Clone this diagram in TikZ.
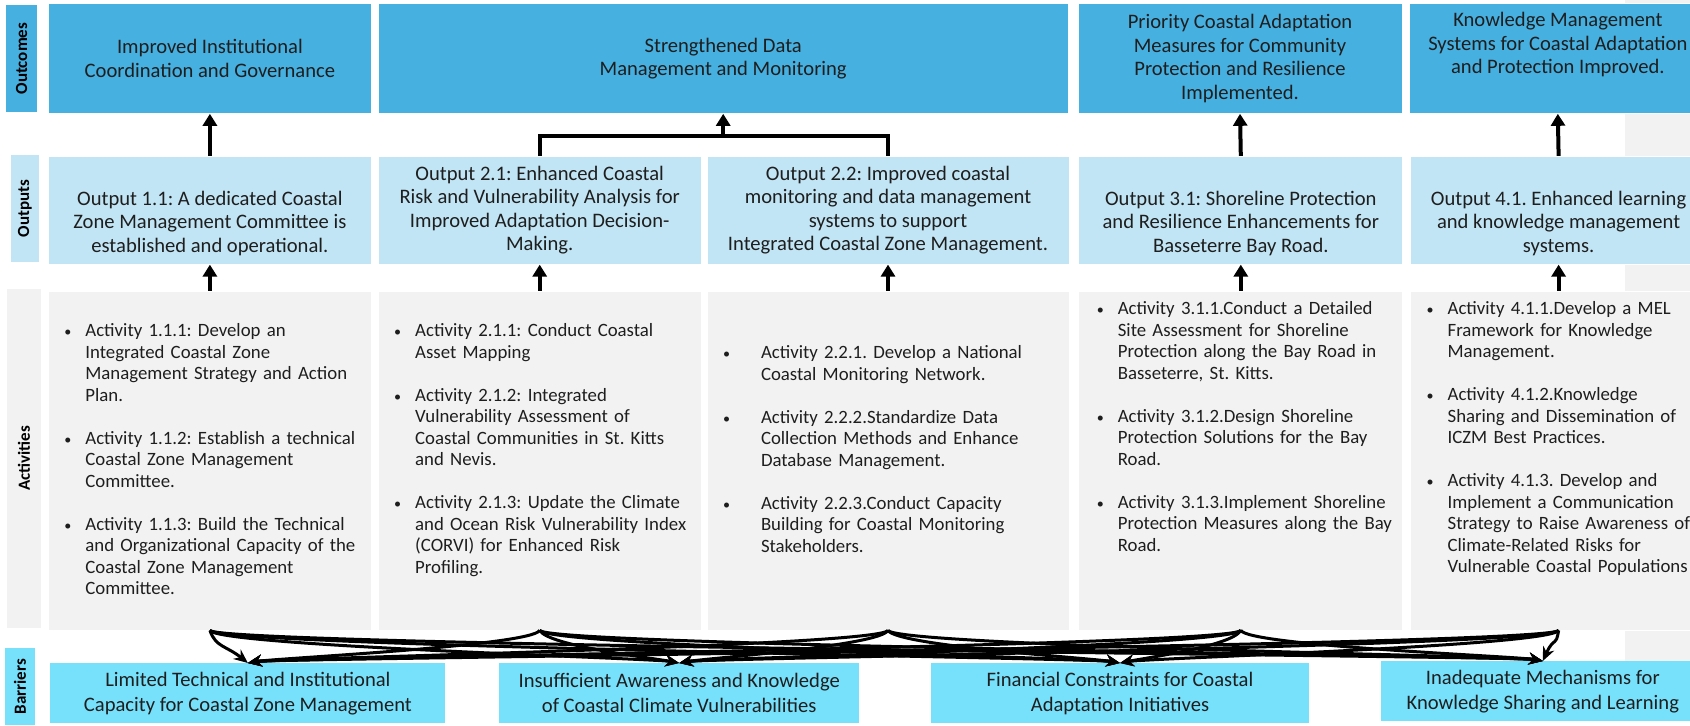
\documentclass[tikz,border=0pt]{standalone}
\usepackage{fontspec}
\setmainfont{Carlito}
\usetikzlibrary{positioning, arrows.meta, calc}
\frenchspacing

\definecolor{outcomeblue}{RGB}{70,176,225}
\definecolor{outputblue}{RGB}{193,229,245}
\definecolor{actgray}{RGB}{242,242,242}
\definecolor{barriercyan}{RGB}{119,225,252}
\definecolor{txt}{RGB}{30,30,30}

\newcommand{\boxfont}{\fontsize{10.3}{11.75}\selectfont}
\newcommand{\actfont}{\fontsize{9.4}{10.75}\selectfont}
\newcommand{\barfont}{\fontsize{10.3}{12.5}\selectfont}
\newcommand{\lblfont}{\fontsize{8.5}{10}\selectfont\bfseries}
\newcommand{\actitem}[2][10.5pt]{\noindent\hangindent=#1\hangafter=1\makebox[#1][l]{\scalebox{0.75}{\textbullet}}#2\par}
\newcommand{\actgap}{\vspace{10.75pt}}

\tikzset{
  outcome/.style={draw=white, fill=outcomeblue, text=txt, font=\boxfont, align=center, minimum height=55pt, inner sep=0pt},
  output/.style={outcome, fill=outputblue, minimum height=54pt},
  actbox/.style={draw=white, fill=actgray, minimum height=169.5pt, inner sep=0pt},
  acttext/.style={anchor=base west, text width=170pt, align=left, font=\actfont, text=txt, inner sep=0pt},
  barrier/.style={fill=barriercyan, text=txt, font=\barfont, align=center, minimum height=30pt, inner sep=0pt},
  rowlabel/.style={rotate=90, font=\lblfont, inner sep=0pt},
  uparrow/.style={-{Triangle[length=6pt,width=7pt]}, line width=2pt},
  bracket/.style={line width=2pt},
  barrow/.style={-{Stealth[length=7pt,width=6pt]}, line width=1.5pt}
}

\begin{document}
\begin{tikzpicture}[x=0.5pt, y=-0.5pt]
    \useasboundingbox (0,0) rectangle (1690,725);
    \fill[white] (0,0) rectangle (1690,725);
    \fill[actgray] (1625,0) rectangle (1690,661);

    % row labels
    \node[rowlabel, fill=outcomeblue, minimum width=53.5pt, minimum height=15.5pt] (lo) at (21.5,58.5) {Outcomes};
    \node[rowlabel, fill=outputblue, minimum width=53.5pt, minimum height=14pt] (lp) at (25,208.5) {Outputs};
    \node[rowlabel, fill=actgray, minimum width=169.5pt, minimum height=17pt] (la) at (24,458.5) {Activities};
    \node[rowlabel, fill=barriercyan, minimum width=38.5pt, minimum height=15pt] (lb) at (20,686.5) {Barriers};

    % outcomes
    \node[outcome, minimum width=161.5pt, anchor=north west] (o1) at (48,3)
        {Improved Institutional\\Coordination and Governance};
    \node[outcome, minimum width=345pt, right=3pt of o1] (o2)
        {Strengthened Data\\Management and Monitoring};
    \node[outcome, minimum width=162pt, right=4.5pt of o2] (o3)
        {Priority Coastal Adaptation\\Measures for Community\\Protection and Resilience\\Implemented.};
    \node[outcome, minimum width=148pt, right=3.5pt of o3] (o4)
        {Knowledge Management\\Systems for Coastal Adaptation\\and Protection Improved.\\\strut};

    % outputs
    \node[output, minimum width=161.5pt, below=21pt of o1] (p1)
        {\strut\\Output 1.1: A dedicated Coastal\\Zone Management Committee is\\established and operational.};
    \node[output, minimum width=161.5pt, right=3pt of p1] (p21)
        {Output 2.1: Enhanced Coastal\\Risk and Vulnerability Analysis for\\Improved Adaptation Decision-\\Making.};
    \node[output, minimum width=181pt, right=2.5pt of p21] (p22)
        {Output 2.2: Improved coastal\\monitoring and data management\\systems to support\\Integrated Coastal Zone Management.};
    \node[output, minimum width=162pt, right=4.5pt of p22] (p3)
        {\strut\\Output 3.1: Shoreline Protection\\and Resilience Enhancements for\\Basseterre Bay Road.};
    \node[output, minimum width=148pt, right=3.5pt of p3] (p4)
        {\strut\\Output 4.1. Enhanced learning\\and knowledge management\\systems.};

    % activities
    \node[actbox, minimum width=161.5pt, below=13pt of p1] (a1) {};
    \node[actbox, minimum width=161.5pt, right=3pt of a1] (a2) {};
    \node[actbox, minimum width=181pt, right=2.5pt of a2] (a3) {};
    \node[actbox, minimum width=162pt, right=4.5pt of a3] (a4) {};
    \node[actbox, minimum width=148pt, right=3.5pt of a4] (a5) {};

    \node[acttext] (t1) at ($(a1.north west)+(16,46)$) {%
        \actitem{Activity 1.1.1: Develop an\newline Integrated Coastal Zone\newline Management Strategy and Action\newline Plan.}\actgap
        \actitem{Activity 1.1.2: Establish a technical\newline Coastal Zone Management\newline Committee.}\actgap
        \actitem{Activity 1.1.3: Build the Technical\newline and Organizational Capacity of the\newline Coastal Zone Management\newline Committee.}};
    \node[acttext] (t2) at ($(a2.north west)+(16,46)$) {%
        \actitem{Activity 2.1.1: Conduct Coastal\newline Asset Mapping}\actgap
        \actitem{Activity 2.1.2: Integrated\newline Vulnerability Assessment of\newline Coastal Communities in St. Kitts\newline and Nevis.}\actgap
        \actitem{Activity 2.1.3: Update the Climate\newline and Ocean Risk Vulnerability Index\newline (CORVI) for Enhanced Risk\newline Profiling.}};
    \node[acttext] (t3) at ($(a3.north west)+(16,68)$) {%
        \actitem[19pt]{Activity 2.2.1. Develop a National\newline Coastal Monitoring Network.}\actgap
        \actitem[19pt]{Activity 2.2.2.Standardize Data\newline Collection Methods and Enhance\newline Database Management.}\actgap
        \actitem[19pt]{Activity 2.2.3.Conduct Capacity\newline Building for Coastal Monitoring\newline Stakeholders.}};
    \node[acttext] (t4) at ($(a4.north west)+(18,24)$) {%
        \actitem{Activity 3.1.1.Conduct a Detailed\newline Site Assessment for Shoreline\newline Protection along the Bay Road in\newline Basseterre, St. Kitts.}\actgap
        \actitem{Activity 3.1.2.Design Shoreline\newline Protection Solutions for the Bay\newline Road.}\actgap
        \actitem{Activity 3.1.3.Implement Shoreline\newline Protection Measures along the Bay\newline Road.}};
    \node[acttext] (t5) at ($(a5.north west)+(16,24)$) {%
        \actitem{Activity 4.1.1.Develop a MEL\newline Framework for Knowledge\newline Management.}\actgap
        \actitem{Activity 4.1.2.Knowledge\newline Sharing and Dissemination of\newline ICZM Best Practices.}\actgap
        \actitem{Activity 4.1.3. Develop and\newline Implement a Communication\newline Strategy to Raise Awareness of\newline Climate-Related Risks for\newline Vulnerable Coastal Populations}};

    % barriers
    \node[barrier, minimum width=197.5pt, anchor=north west] (b1) at (50,663)
        {Limited Technical and Institutional\\Capacity for Coastal Zone Management};
    \node[barrier, minimum width=180pt, right=26.5pt of b1] (b2)
        {Insufficient Awareness and Knowledge\\of Coastal Climate Vulnerabilities};
    \node[barrier, minimum width=189pt, right=35.5pt of b2] (b3)
        {Financial Constraints for Coastal\\Adaptation Initiatives};
    \node[barrier, minimum width=162pt, right=35.5pt of b3, yshift=1pt] (b4)
        {Inadequate Mechanisms for\\Knowledge Sharing and Learning};

    % connectors
    \draw[uparrow] (p1.north) -- (o1.south);
    \draw[bracket] (p21.north) -- ++(0,-20) coordinate (bar) -| (p22.north);
    \draw[uparrow] (bar -| o2.south) -- (o2.south);
    \draw[uparrow] (p3.north) -- (o3.south);
    \draw[uparrow] (p4.north) -- (o4.south);
    \foreach \act/\out in {a1/p1, a2/p21, a3/p22, a4/p3, a5/p4}
        \draw[uparrow] (\act.north) -- (\out.south);

    \foreach \s in {1,...,5}
        \foreach \t in {1,...,4}
            \draw[barrow] let \p1=(a\s.south), \p2=(b\t.north),
                \n1={tanh(max(min((\x2-\x1)/25,4),-4))}, \n2={-90+30*\n1}, \n3={90+80*\n1} in
                (\p1) to[out=\n2, in=\n3, out distance=9pt, in distance=14pt] (\p2);
\end{tikzpicture}
\end{document}
